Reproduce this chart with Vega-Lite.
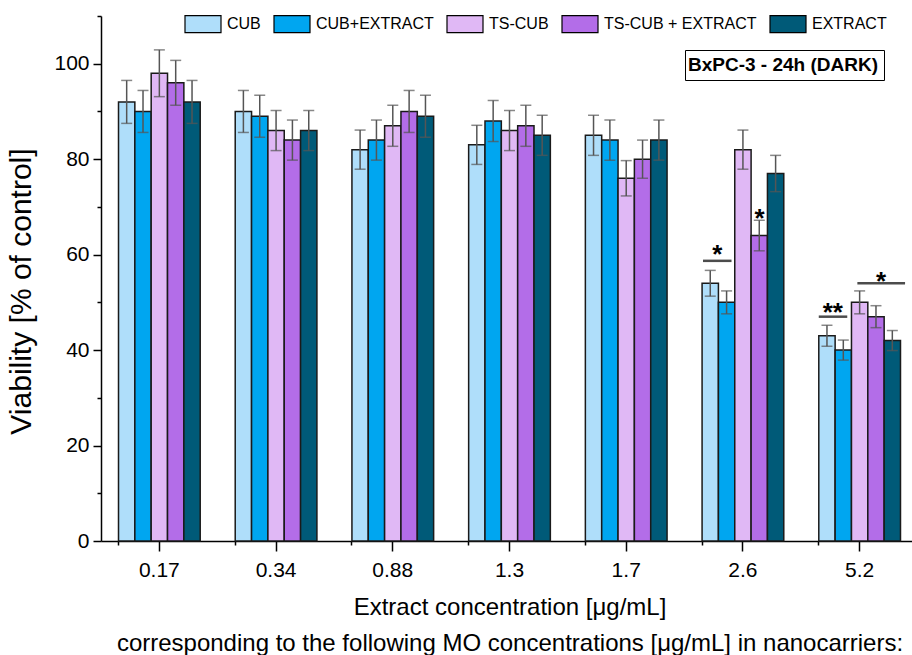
{
  "$schema": "https://vega.github.io/schema/vega-lite/v6.json",
  "width": 817,
  "height": 525,
  "autosize": {"type": "none"},
  "padding": {"left": 101, "top": 16, "right": -6, "bottom": 114},
  "background": "white",
  "config": {
    "font": "Liberation Sans",
    "view": {"stroke": null},
    "axis": {"domainColor": "black", "tickColor": "black", "labelColor": "black", "titleColor": "black", "domainWidth": 1.5, "tickWidth": 1.5, "grid": false, "titleFontWeight": "normal"}
  },
  "datasets": {
    "bars": [
      {"c": "0.17", "s": "CUB", "v": 92, "lo": 87.5, "hi": 96.5},
      {"c": "0.17", "s": "CUB+EXTRACT", "v": 90, "lo": 85.6, "hi": 94.4},
      {"c": "0.17", "s": "TS-CUB", "v": 98, "lo": 93.1, "hi": 102.9},
      {"c": "0.17", "s": "TS-CUB + EXTRACT", "v": 96, "lo": 91.3, "hi": 100.7},
      {"c": "0.17", "s": "EXTRACT", "v": 92, "lo": 87.5, "hi": 96.5},
      {"c": "0.34", "s": "CUB", "v": 90, "lo": 85.6, "hi": 94.4},
      {"c": "0.34", "s": "CUB+EXTRACT", "v": 89, "lo": 84.6, "hi": 93.4},
      {"c": "0.34", "s": "TS-CUB", "v": 86, "lo": 81.8, "hi": 90.2},
      {"c": "0.34", "s": "TS-CUB + EXTRACT", "v": 84, "lo": 79.8, "hi": 88.2},
      {"c": "0.34", "s": "EXTRACT", "v": 86, "lo": 81.8, "hi": 90.2},
      {"c": "0.88", "s": "CUB", "v": 82, "lo": 77.9, "hi": 86.1},
      {"c": "0.88", "s": "CUB+EXTRACT", "v": 84, "lo": 79.8, "hi": 88.2},
      {"c": "0.88", "s": "TS-CUB", "v": 87, "lo": 82.7, "hi": 91.3},
      {"c": "0.88", "s": "TS-CUB + EXTRACT", "v": 90, "lo": 85.6, "hi": 94.4},
      {"c": "0.88", "s": "EXTRACT", "v": 89, "lo": 84.6, "hi": 93.4},
      {"c": "1.3", "s": "CUB", "v": 83, "lo": 78.9, "hi": 87.1},
      {"c": "1.3", "s": "CUB+EXTRACT", "v": 88, "lo": 83.7, "hi": 92.3},
      {"c": "1.3", "s": "TS-CUB", "v": 86, "lo": 81.8, "hi": 90.2},
      {"c": "1.3", "s": "TS-CUB + EXTRACT", "v": 87, "lo": 82.7, "hi": 91.3},
      {"c": "1.3", "s": "EXTRACT", "v": 85, "lo": 80.8, "hi": 89.2},
      {"c": "1.7", "s": "CUB", "v": 85, "lo": 80.8, "hi": 89.2},
      {"c": "1.7", "s": "CUB+EXTRACT", "v": 84, "lo": 79.8, "hi": 88.2},
      {"c": "1.7", "s": "TS-CUB", "v": 76, "lo": 72.3, "hi": 79.7},
      {"c": "1.7", "s": "TS-CUB + EXTRACT", "v": 80, "lo": 76.0, "hi": 84.0},
      {"c": "1.7", "s": "EXTRACT", "v": 84, "lo": 79.8, "hi": 88.2},
      {"c": "2.6", "s": "CUB", "v": 54, "lo": 51.3, "hi": 56.7},
      {"c": "2.6", "s": "CUB+EXTRACT", "v": 50, "lo": 47.6, "hi": 52.4},
      {"c": "2.6", "s": "TS-CUB", "v": 82, "lo": 77.9, "hi": 86.1},
      {"c": "2.6", "s": "TS-CUB + EXTRACT", "v": 64, "lo": 60.8, "hi": 67.2},
      {"c": "2.6", "s": "EXTRACT", "v": 77, "lo": 73.2, "hi": 80.8},
      {"c": "5.2", "s": "CUB", "v": 43, "lo": 40.8, "hi": 45.2},
      {"c": "5.2", "s": "CUB+EXTRACT", "v": 40, "lo": 37.9, "hi": 42.1},
      {"c": "5.2", "s": "TS-CUB", "v": 50, "lo": 47.6, "hi": 52.4},
      {"c": "5.2", "s": "TS-CUB + EXTRACT", "v": 47, "lo": 44.7, "hi": 49.3},
      {"c": "5.2", "s": "EXTRACT", "v": 42, "lo": 39.9, "hi": 44.1}
    ],
    "lines": [
      {"c": "2.6", "pos": 0.93, "y": 58.7, "span": 2},
      {"c": "5.2", "pos": 0.87, "y": 47.0, "span": 2},
      {"c": "5.2", "pos": 3.82, "y": 54.0, "span": 3}
    ],
    "stars": [
      {"c": "2.6", "pos": 0.93, "y": 61.3, "label": "*"},
      {"c": "2.6", "pos": 3.52, "y": 68.9, "label": "*"},
      {"c": "5.2", "pos": 0.86, "y": 49.2, "label": "**"},
      {"c": "5.2", "pos": 3.81, "y": 55.7, "label": "*"}
    ],
    "box": [{"label": "BxPC-3 - 24h (DARK)"}]
  },
  "layer": [
    {
      "data": {"name": "bars"},
      "mark": {"type": "bar", "stroke": "#1a1a1a", "strokeWidth": 1.5},
      "encoding": {
        "x": {"field": "c", "type": "nominal", "scale": {"domain": ["0.17", "0.34", "0.88", "1.3", "1.7", "2.6", "5.2"], "paddingInner": 0.3, "paddingOuter": 0.15},
          "axis": {"orient": "bottom", "labelAngle": 0, "labelFontSize": 21, "tickSize": 10, "labelPadding": 8, "title": ["Extract concentration [μg/mL]", "corresponding to the following MO concentrations [μg/mL] in nanocarriers:"], "titleFontSize": 24, "titleLineHeight": 36, "titlePadding": 15}},
        "xOffset": {"field": "s", "type": "nominal", "sort": ["CUB", "CUB+EXTRACT", "TS-CUB", "TS-CUB + EXTRACT", "EXTRACT"]},
        "y": {"field": "v", "type": "quantitative", "scale": {"domain": [0, 110], "nice": false},
          "axis": {"orient": "left", "values": [0, 20, 40, 60, 80, 100], "labelFontSize": 21, "tickSize": 8, "labelPadding": 4, "title": "Viability [% of control]", "titleFontSize": 30, "titlePadding": 17, "titleY": 275}},
        "color": {"field": "s", "type": "nominal",
          "scale": {"domain": ["CUB", "CUB+EXTRACT", "TS-CUB", "TS-CUB + EXTRACT", "EXTRACT"], "range": ["#afdefa", "#00a6f0", "#e0b8f5", "#b36de8", "#005a78"]},
          "legend": {"orient": "none", "legendX": 83, "legendY": -11, "direction": "horizontal", "title": null, "symbolType": "M-1,-0.47H1V0.47H-1Z", "symbolSize": 1296, "labelFontSize": 16, "labelOffset": 5, "columnPadding": 10, "symbolStrokeColor": "black", "symbolStrokeWidth": 1.2, "labelColor": "black", "padding": 0}}
      }
    },
    {
      "data": {"name": "bars"},
      "mark": {"type": "rule", "color": "#555555", "strokeWidth": 1.5},
      "encoding": {
        "x": {"field": "c", "type": "nominal", "scale": {"domain": ["0.17", "0.34", "0.88", "1.3", "1.7", "2.6", "5.2"]},
          "axis": {"orient": "bottom", "bandPosition": 0, "labels": false, "domain": false, "tickSize": 4, "title": null}},
        "xOffset": {"field": "s", "type": "nominal", "sort": ["CUB", "CUB+EXTRACT", "TS-CUB", "TS-CUB + EXTRACT", "EXTRACT"]},
        "y": {"field": "lo", "type": "quantitative", "axis": {"orient": "left", "values": [10, 30, 50, 70, 90, 110], "labels": false, "domain": false, "tickSize": 4, "title": null}},
        "y2": {"field": "hi"}
      }
    },
    {
      "data": {"name": "bars"},
      "mark": {"type": "tick", "orient": "horizontal", "size": 11, "thickness": 1.5, "color": "#555555"},
      "encoding": {
        "x": {"field": "c", "type": "nominal", "scale": {"domain": ["0.17", "0.34", "0.88", "1.3", "1.7", "2.6", "5.2"]}, "axis": null},
        "xOffset": {"field": "s", "type": "nominal", "sort": ["CUB", "CUB+EXTRACT", "TS-CUB", "TS-CUB + EXTRACT", "EXTRACT"]},
        "y": {"field": "lo", "type": "quantitative", "axis": null}
      }
    },
    {
      "data": {"name": "bars"},
      "mark": {"type": "tick", "orient": "horizontal", "size": 11, "thickness": 1.5, "color": "#555555"},
      "encoding": {
        "x": {"field": "c", "type": "nominal", "scale": {"domain": ["0.17", "0.34", "0.88", "1.3", "1.7", "2.6", "5.2"]}, "axis": null},
        "xOffset": {"field": "s", "type": "nominal", "sort": ["CUB", "CUB+EXTRACT", "TS-CUB", "TS-CUB + EXTRACT", "EXTRACT"]},
        "y": {"field": "hi", "type": "quantitative", "axis": null}
      }
    },
    {
      "data": {"name": "lines"},
      "mark": {"type": "tick", "orient": "horizontal", "thickness": 2.5, "color": "black"},
      "encoding": {
        "x": {"field": "c", "type": "nominal", "scale": {"domain": ["0.17", "0.34", "0.88", "1.3", "1.7", "2.6", "5.2"]}, "axis": null},
        "xOffset": {"field": "pos", "type": "quantitative", "scale": {"domain": [0, 5], "nice": false, "zero": false}},
        "y": {"field": "y", "type": "quantitative", "axis": null},
        "size": {"field": "span", "type": "quantitative", "scale": {"domain": [2, 3], "range": [28.5, 47.7]}, "legend": null}
      }
    },
    {
      "data": {"name": "stars"},
      "mark": {"type": "text", "fontSize": 26, "fontWeight": "bold", "dy": 15, "color": "black", "baseline": "alphabetic"},
      "encoding": {
        "x": {"field": "c", "type": "nominal", "scale": {"domain": ["0.17", "0.34", "0.88", "1.3", "1.7", "2.6", "5.2"]}, "axis": null},
        "xOffset": {"field": "pos", "type": "quantitative", "scale": {"domain": [0, 5], "nice": false, "zero": false}},
        "y": {"field": "y", "type": "quantitative", "axis": null},
        "text": {"field": "label"}
      }
    },
    {
      "data": {"name": "box"},
      "mark": {"type": "point", "opacity": 0},
      "encoding": {
        "shape": {"field": "label", "type": "nominal",
          "legend": {"orient": "none", "legendX": 584, "legendY": 34, "title": null, "strokeColor": "black", "padding": 5, "symbolSize": 0, "symbolOpacity": 0, "labelOffset": -21, "labelFontSize": 19, "labelFontWeight": "bold", "labelLimit": 0, "labelColor": "black"}}
      }
    }
  ],
  "resolve": {"scale": {"xOffset": "independent"}, "axis": {"x": "independent", "y": "independent"}}
}
